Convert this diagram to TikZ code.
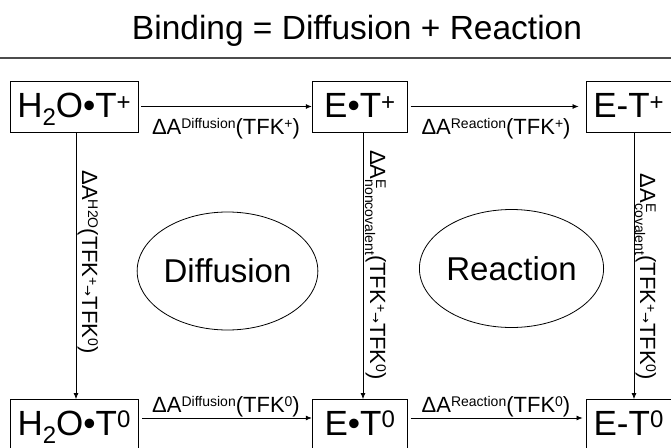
\documentclass[tikz,border=0pt]{standalone}
\usepackage{fontspec}
\setmainfont{Liberation Sans}
\newfontfamily\dejavu{DejaVu Sans}
\usetikzlibrary{arrows.meta,shapes.geometric}
\newcommand\fs[1]{\fontsize{#1}{#1}\selectfont}
\newcommand\hsup[2][6pt]{\raisebox{#1}{\fs{14}#2}}
\newcommand\hsub[2][-5pt]{\raisebox{#1}{\fs{14}#2}}
\newcommand\bsup[2][7pt]{\raisebox{#1}{\fs{24}#2}}
\newcommand\bsub[1]{\raisebox{-8pt}{\fs{24}#1}}
\newcommand\tfkarrow{\raisebox{1.5pt}{\dejavu\fs{13}→}}
\begin{document}
\begin{tikzpicture}[x=1pt,y=-1pt,
  box/.style={draw, line width=0.9pt, minimum height=51pt, inner sep=0pt,
              text height=25pt, text depth=4pt, font=\fs{35}},
  arr/.style={-{Latex[length=6pt,width=5pt]}, line width=0.7pt},
  lab/.style={font=\fs{22}, inner sep=0pt, anchor=base},
  oval/.style={draw, ellipse, line width=0.8pt, inner sep=0pt,
               minimum width=178pt, minimum height=118pt, font=\fs{33}}]
\useasboundingbox (0,0) rectangle (671,447);
\clip (0,0) rectangle (671,447);
% title and rule
\node[font=\fs{33.5}, anchor=base, inner sep=0pt] (title) at (357,39) {Binding = Diffusion + Reaction};
\coordinate (r1) at (0,58);
\coordinate (r2) at (671,58);
\draw[black!70, line width=1.2pt] (r1) -- (r2);
% boxes
\node[box, minimum width=128pt] (a1) at (74,106.5) {H\bsub{2}O•T\bsup{+}};
\node[box, minimum width=95pt] (b1) at (359.7,106.5) {E•T\bsup{+}};
\node[box, minimum width=85pt] (c1) at (628.5,106.5) {E-T\bsup{+}};
\node[box, minimum width=128pt] (a0) at (74,425) {H\bsub{2}O•T\bsup[8pt]{0}};
\node[box, minimum width=95pt] (b0) at (359.7,425) {E•T\bsup[8pt]{0}};
\node[box, minimum width=85pt] (c0) at (628.5,425) {E-T\bsup[8pt]{0}};
% ellipses
\node[oval] (diff) at (227.5,271) {Diffusion};
\node[oval] (reac) at (511.5,268.5) {Reaction};
% horizontal arrows
\draw[arr, shorten <=3pt] (a1.east) -- (b1.west);
\draw[arr, shorten <=3pt, shorten >=7pt] (b1.east) -- (c1.west);
\draw[arr, shorten <=4pt] ([yshift=7pt]a0.east) -- ([yshift=7pt]b0.west);
\draw[arr, shorten <=3pt, shorten >=3pt] ([yshift=7pt]b0.east) -- ([yshift=7pt]c0.west);
% vertical arrows
\draw[arr] ([xshift=2pt]a1.south) -- ([xshift=2pt]a0.north);
\draw[arr] ([xshift=3.3pt]b1.south) -- ([xshift=3.3pt]b0.north);
\draw[arr] ([xshift=5.5pt]c1.south) -- ([xshift=5.5pt]c0.north);
% horizontal labels
\node[lab] (l1) at (226,134) {ΔA\hsup{Diffusion}(TFK\hsup{+})};
\node[lab] (l2) at (496,134) {ΔA\hsup{Reaction}(TFK\hsup{+})};
\node[lab] (l3) at (226,412) {ΔA\hsup{Diffusion}(TFK\hsup{0})};
\node[lab] (l4) at (496,412) {ΔA\hsup{Reaction}(TFK\hsup{0})};
% vertical labels
\node[lab, rotate=-90] (v1) at (82,262) {ΔA\hsup{H2O}(TFK\hsup{+}\tfkarrow TFK\hsup{0})};
\node[lab, rotate=-90] (v2) at (370,265) {ΔA\rlap{\hsup{E}}\hsub{noncovalent}(TFK\hsup{+}\tfkarrow TFK\hsup{0})};
\node[lab, rotate=-90] (v3) at (640,277) {ΔA\rlap{\hsup{E}}\hsub{covalent}(TFK\hsup{+}\tfkarrow TFK\hsup{0})};
\end{tikzpicture}
\end{document}
